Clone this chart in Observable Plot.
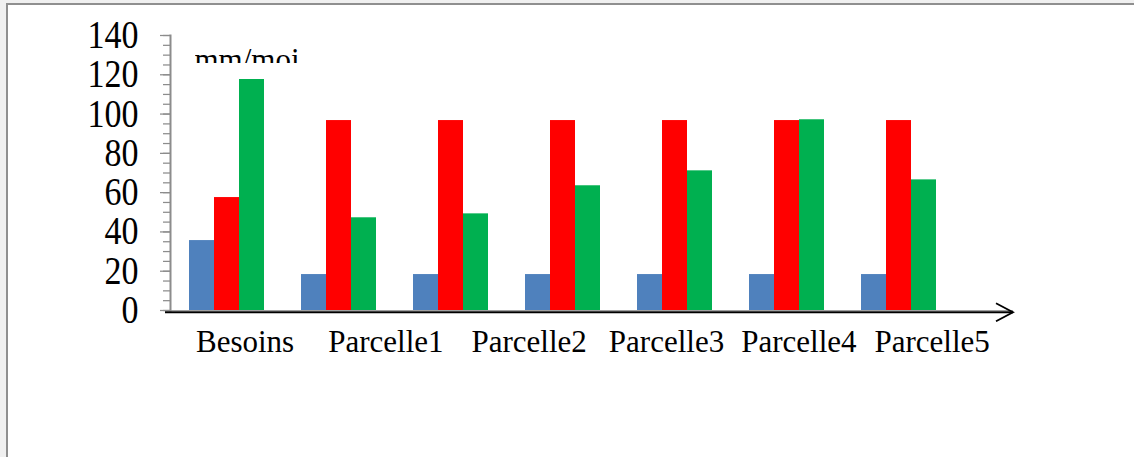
<!DOCTYPE html>
<html><head><meta charset="utf-8">
<script src="https://cdn.jsdelivr.net/npm/d3@7"></script>
<script src="https://cdn.jsdelivr.net/npm/@observablehq/plot@0.6"></script>
<style>
html,body{margin:0;padding:0;background:#f0f0f0;width:1134px;height:457px;overflow:hidden;}
#box{position:absolute;left:6px;top:3px;width:1200px;height:500px;background:#fff;border-left:2px solid #8f8f8f;border-top:2px solid #8f8f8f;}
#chart{position:absolute;left:0;top:0;}
.serif{font-family:'Liberation Serif','Times New Roman',serif;color:#000;}
#unit{position:absolute;left:194.5px;top:44px;height:19px;overflow:hidden;font-size:31px;line-height:31px;white-space:nowrap;}
#labels{position:absolute;left:196px;top:326px;font-size:31px;line-height:31px;white-space:nowrap;}
#labels span{display:inline-block;}
</style></head><body>
<div id="box"></div>
<div id="chart"></div>
<div id="unit" class="serif"></div>
<div id="labels" class="serif"></div>
<script>
// ---- data ----
const groups = ["g1", "g2", "g3", "g4", "g5", "g6", "g7"];
const seriesBlue  = [35.6, 18.3, 18.3, 18.3, 18.3, 18.3, 18.3];
const seriesRed   = [57.5, 96.7, 96.7, 96.7, 96.7, 96.7, 96.7];
const seriesGreen = [117.6, 47.2, 49.2, 63.5, 71.1, 97.1, 66.5];
const categoryLabels = ["Besoins", "Parcelle1", "Parcelle2", "Parcelle3", "Parcelle4", "Parcelle5"];
const yTickValues = [0, 20, 40, 60, 80, 100, 120, 140];
const yMinorTickValues = d3.range(0, 141, 5);
const unitLabel = "mm/moi";

// ---- style constants ----
const labelGaps = [34, 28, 22, 17, 18];
const barW = 25;
const serif = "'Liberation Serif','Times New Roman',serif";

const rows = groups.map((g, i) => ({group: g, blue: seriesBlue[i], red: seriesRed[i], green: seriesGreen[i]}));

const chart = Plot.plot({
  width: 1134, height: 330,
  marginLeft: 170, marginRight: 121, marginTop: 35, marginBottom: 20,
  style: {background: "transparent", fontFamily: serif, overflow: "visible", color: "black"},
  x: {type: "band", domain: groups, range: [170.5, 954.5], paddingInner: 87/112, paddingOuter: 87/224, axis: null},
  y: {domain: [0, 140]},
  marks: [
    Plot.ruleY([0], {stroke: "#a0a0a0", strokeWidth: 1}),
    Plot.barY(rows, {x: "group", y: "blue", fill: "#4f81bd", dx: -barW}),
    Plot.barY(rows, {x: "group", y: "red", fill: "#ff0000"}),
    Plot.barY(rows, {x: "group", y: "green", fill: "#00b050", dx: barW}),
    Plot.frame({anchor: "left", stroke: "#8c8c8c", strokeWidth: 2}),
    Plot.axisY({ticks: yMinorTickValues, tickSize: 7, fill: "none", stroke: "#8c8c8c", strokeWidth: 1.25, label: null}),
    Plot.axisY({ticks: yTickValues, tickSize: 10, fill: "none", stroke: "#8c8c8c", strokeWidth: 1.25, label: null}),
    Plot.axisY({ticks: yTickValues, tickSize: 0, tickPadding: 32, fontSize: 34, fill: "black", label: null}),
    Plot.ruleY([0], {stroke: "black", strokeWidth: 2, dy: 1.75, insetLeft: -5})
  ]
});
document.getElementById("chart").appendChild(chart);

// stretch tick labels vertically (tall serif digits)
chart.querySelectorAll('g[aria-label="y-axis tick label"] text').forEach(t => {
  const tr = t.getAttribute("transform");
  if (tr && tr.includes("translate")) t.setAttribute("transform", tr + " scale(1,1.15)");
});

// arrowhead on the x axis line
const svg = d3.select(chart);
svg.append("defs").append("marker")
  .attr("id", "xarrow").attr("markerUnits", "userSpaceOnUse")
  .attr("viewBox", "0 0 20 20").attr("refX", 18).attr("refY", 10)
  .attr("markerWidth", 20).attr("markerHeight", 20).attr("orient", "auto")
  .append("path").attr("d", "M1,1 L18,10 L1,19").attr("fill", "none")
  .attr("stroke", "black").attr("stroke-width", 1.8);
const rules = chart.querySelectorAll('g[aria-label="rule"]');
const lastRule = rules[rules.length - 1];
lastRule.querySelectorAll("line").forEach(l => l.setAttribute("marker-end", "url(#xarrow)"));

// unit label and category labels (text boxes)
document.getElementById("unit").textContent = unitLabel;
const lab = d3.select("#labels");
categoryLabels.forEach((s, i) => {
  lab.append("span").text(s).style("margin-left", i === 0 ? "0px" : labelGaps[i - 1] + "px");
});
</script>
</body></html>
